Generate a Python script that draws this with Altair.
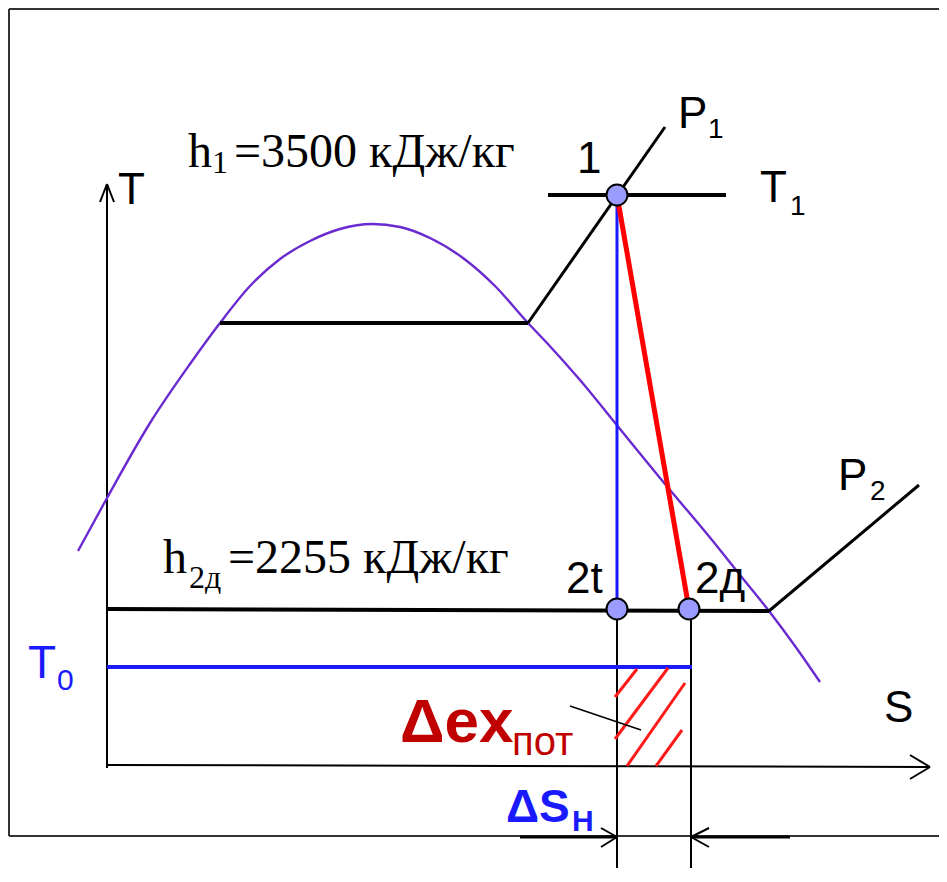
import altair as alt
import pandas as pd

# ---------------- data (schematic T-S diagram, diagram units) ----------------
# saturation dome
DOME_S = [78, 107, 150, 190, 220, 250, 280, 310, 340, 372, 400, 430, 463, 495,
          528, 547, 580, 620, 660, 712, 740, 769, 795, 820]
DOME_T = [551, 498, 423, 364, 323, 286, 259, 241, 229, 224, 227, 238, 258, 286,
          323, 343, 380, 429, 478, 540, 575, 611, 646, 682]

# state points 1, 2t, 2д
POINT_NAMES = ["1", "2t", "2д"]
POINT_S = [617, 617, 689]
POINT_T = [195, 609, 609]

# line segments (s1, t1, s2, t2)
FRAME = [(9, 9, 947, 9), (9, 9, 9, 836), (9, 836, 947, 836)]
AXES = [(107, 768, 107, 184), (100, 202, 107, 184), (114, 202, 107, 184),
        (107, 765, 930, 767), (910, 755, 930, 767), (910, 779, 930, 767)]
ISOBARS_FLAT = [(220, 323, 528, 323), (548, 195, 726, 195), (107, 609, 769, 611)]
ISOBARS_SLOPE = [(528, 323, 665, 127), (769, 611, 919, 485)]
IDEAL_EXP = [(617, 195, 617, 609)]
REAL_EXP = [(617, 195, 689, 609)]
T0_LINE = [(107, 667, 692, 667)]
GUIDES = [(617, 609, 617, 882), (691, 609, 691, 869)]
HATCH = [(615, 697, 637, 669), (615, 739, 668, 668), (627, 766, 685, 683),
         (656, 766, 682, 730)]
LEADER = [(570, 706, 641, 730)]
DIM_LINES = [(520, 837, 617, 837), (691, 837, 790, 837)]
DIM_HEADS = [(601, 828, 617, 837), (601, 847, 617, 837),
             (709, 828, 691, 837), (709, 847, 691, 837)]

# labels (s, t, text)
SANS_BIG = [(566, 593, "2t"), (695, 593, "2д"), (577, 173, "1"),
            (678, 128, "P"), (760, 202, "T"), (838, 490, "P"), (884, 722, "S"),
            (118, 204, "T")]
SANS_SUB = [(708, 138, "1"), (790, 215, "1"), (870, 500, "2")]
SERIF_MAIN = [(188, 167, "h"), (234, 167, "=3500 кДж/кг"),
              (163, 573, "h"), (228, 573, "=2255 кДж/кг")]
SERIF_SUB = [(212, 173, "1"), (189, 588, "2д")]
T0_MAIN = [(28, 678, "T")]
T0_SUB = [(57, 690, "0")]
EX_MAIN = [(400, 742, "Δex")]
EX_SUB = [(512, 755, "пот")]
DS_MAIN = [(506, 822, "ΔS")]
DS_SUB = [(572, 831, "Н")]

# ---------------- styling / scales ----------------
W, H = 931, 860
XS = alt.Scale(domain=[8, 8 + W], nice=False, zero=False)
YS = alt.Scale(domain=[8, 8 + H], nice=False, zero=False, reverse=True)
SANS = "Liberation Sans, Arial, sans-serif"
SERIF = "Liberation Serif, Times New Roman, serif"
BLUE = "#1a1aff"


def seg_layer(segs, color, width, cap="butt"):
    df = pd.DataFrame(segs, columns=["s1", "t1", "s2", "t2"])
    return alt.Chart(df).mark_rule(color=color, strokeWidth=width, strokeCap=cap).encode(
        x=alt.X("s1:Q", scale=XS, axis=None),
        y=alt.Y("t1:Q", scale=YS, axis=None),
        x2="s2:Q",
        y2="t2:Q",
    )


def text_layer(items, font, size, color="black", weight="normal"):
    df = pd.DataFrame(items, columns=["s", "t", "label"])
    return alt.Chart(df).mark_text(
        font=font, fontSize=size, fontWeight=weight, color=color,
        align="left", baseline="alphabetic",
    ).encode(
        x=alt.X("s:Q", scale=XS, axis=None),
        y=alt.Y("t:Q", scale=YS, axis=None),
        text="label:N",
    )


dome_df = pd.DataFrame({"s": DOME_S, "t": DOME_T, "i": range(len(DOME_S))})
dome = alt.Chart(dome_df).mark_line(color="#6a2ad0", strokeWidth=2.4, interpolate="monotone").encode(
    x=alt.X("s:Q", scale=XS, axis=None),
    y=alt.Y("t:Q", scale=YS, axis=None),
    order="i:Q",
)

pts_df = pd.DataFrame({"name": POINT_NAMES, "s": POINT_S, "t": POINT_T})
points = alt.Chart(pts_df).mark_point(
    filled=True, fill="#9a9cff", stroke="black", strokeWidth=2, size=440, opacity=1, shape="circle"
).encode(
    x=alt.X("s:Q", scale=XS, axis=None),
    y=alt.Y("t:Q", scale=YS, axis=None),
)

layers = [
    seg_layer(FRAME, "#333333", 2),
    seg_layer(AXES, "black", 2),
    seg_layer(GUIDES, "black", 2),
    seg_layer(T0_LINE, BLUE, 4),
    seg_layer(HATCH, "#ff1a1a", 3),
    seg_layer(LEADER, "black", 1.5),
    seg_layer(DIM_LINES, "black", 3),
    seg_layer(DIM_HEADS, "black", 2),
    dome,
    seg_layer(ISOBARS_FLAT, "black", 4),
    seg_layer(ISOBARS_SLOPE, "black", 3),
    seg_layer(IDEAL_EXP, BLUE, 3),
    seg_layer(REAL_EXP, "#ff0000", 5),
    points,
    text_layer(SANS_BIG, SANS, 44),
    text_layer(SANS_SUB, SANS, 28),
    text_layer(SERIF_MAIN, SERIF, 48),
    text_layer(SERIF_SUB, SERIF, 32),
    text_layer(T0_MAIN, SANS, 46, BLUE),
    text_layer(T0_SUB, SANS, 30, BLUE),
    text_layer(EX_MAIN, SANS, 62, "#c00000", "bold"),
    text_layer(EX_SUB, SANS, 40, "#c00000"),
    text_layer(DS_MAIN, SANS, 46, BLUE, "bold"),
    text_layer(DS_SUB, SANS, 30, BLUE, "bold"),
]

chart = alt.layer(*layers).properties(
    width=W, height=H, padding=0,
    autosize=alt.AutoSizeParams(type="none"),
    background="white",
).configure_view(stroke=None)

chart.save("out.html", embed_options={"renderer": "svg", "actions": False})
